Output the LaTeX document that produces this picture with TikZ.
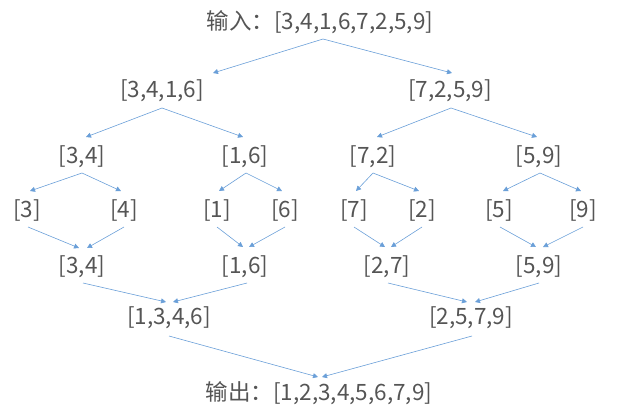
\documentclass[tikz,border=0pt]{standalone}
\usepackage{fontspec}
\setmainfont{Noto Sans CJK SC}
\usetikzlibrary{arrows.meta}
\definecolor{txt}{HTML}{555555}
\definecolor{arrc}{HTML}{6A9FD8}
\begin{document}
\begin{tikzpicture}[x=1pt,y=-1pt,
  lbl/.style={inner sep=0pt, text=txt, font=\fontsize{22.5}{27}\selectfont, anchor=center},
  conn/.style={draw=arrc, line width=0.6pt, -{Triangle[length=5pt,width=5pt,fill=arrc]}}]
\useasboundingbox (0,0) rectangle (639,408);
% nodes
\node[lbl] (in) at (320,22) {输入：[3,4,1,6,7,2,5,9]};
\node[lbl] (a) at (162,91) {[3,4,1,6]};
\node[lbl] (b) at (450,91) {[7,2,5,9]};
\node[lbl] (c1) at (82,157) {[3,4]};
\node[lbl] (c2) at (245,157) {[1,6]};
\node[lbl] (c3) at (373,157) {[7,2]};
\node[lbl] (c4) at (539,157) {[5,9]};
\node[lbl] (d1) at (27,210) {[3]};
\node[lbl] (d2) at (124,210) {[4]};
\node[lbl] (d3) at (217,210) {[1]};
\node[lbl] (d4) at (285,210) {[6]};
\node[lbl] (d5) at (354,210) {[7]};
\node[lbl] (d6) at (422,210) {[2]};
\node[lbl] (d7) at (499,210) {[5]};
\node[lbl] (d8) at (583,210) {[9]};
\node[lbl] (e1) at (82,267) {[3,4]};
\node[lbl] (e2) at (245,267) {[1,6]};
\node[lbl] (e3) at (387,267) {[2,7]};
\node[lbl] (e4) at (539,267) {[5,9]};
\node[lbl] (f1) at (169,318) {[1,3,4,6]};
\node[lbl] (f2) at (471,318) {[2,5,7,9]};
\node[lbl] (out) at (319,393) {输出：[1,2,3,4,5,6,7,9]};
% split
\draw[conn] ([shift={(3,17)}]in.center) -- ([shift={(51,-18)}]a.center);
\draw[conn] ([shift={(3,17)}]in.center) -- ([shift={(2,-18)}]b.center);
\draw[conn] ([shift={(0,17)}]a.center) -- ([shift={(4,-20)}]c1.center);
\draw[conn] ([shift={(0,17)}]a.center) -- ([shift={(-2,-20)}]c2.center);
\draw[conn] ([shift={(1,17)}]b.center) -- ([shift={(4,-20)}]c3.center);
\draw[conn] ([shift={(1,17)}]b.center) -- ([shift={(-2,-20)}]c4.center);
\draw[conn] ([shift={(0,16)}]c1.center) -- ([shift={(3,-19)}]d1.center);
\draw[conn] ([shift={(0,16)}]c1.center) -- ([shift={(-3,-19)}]d2.center);
\draw[conn] ([shift={(1,16)}]c2.center) -- ([shift={(2,-19)}]d3.center);
\draw[conn] ([shift={(1,16)}]c2.center) -- ([shift={(-3,-19)}]d4.center);
\draw[conn] ([shift={(0,16)}]c3.center) -- ([shift={(2,-19)}]d5.center);
\draw[conn] ([shift={(0,16)}]c3.center) -- ([shift={(-3,-19)}]d6.center);
\draw[conn] ([shift={(1,16)}]c4.center) -- ([shift={(4,-19)}]d7.center);
\draw[conn] ([shift={(1,16)}]c4.center) -- ([shift={(-2,-19)}]d8.center);
% merge
\draw[conn] ([shift={(1,17)}]d1.center) -- ([shift={(-3,-19)}]e1.center);
\draw[conn] ([shift={(0,17)}]d2.center) -- ([shift={(5,-19)}]e1.center);
\draw[conn] ([shift={(0,17)}]d3.center) -- ([shift={(-2,-20)}]e2.center);
\draw[conn] ([shift={(0,17)}]d4.center) -- ([shift={(4,-20)}]e2.center);
\draw[conn] ([shift={(0,17)}]d5.center) -- ([shift={(-2,-20)}]e3.center);
\draw[conn] ([shift={(0,17)}]d6.center) -- ([shift={(4,-20)}]e3.center);
\draw[conn] ([shift={(1,17)}]d7.center) -- ([shift={(-3,-20)}]e4.center);
\draw[conn] ([shift={(0,17)}]d8.center) -- ([shift={(4,-20)}]e4.center);
\draw[conn] ([shift={(1,16)}]e1.center) -- ([shift={(-3,-16)}]f1.center);
\draw[conn] ([shift={(2,16)}]e2.center) -- ([shift={(4,-16)}]f1.center);
\draw[conn] ([shift={(1,16)}]e3.center) -- ([shift={(-4,-16)}]f2.center);
\draw[conn] ([shift={(0,16)}]e4.center) -- ([shift={(4,-16)}]f2.center);
\draw[conn] ([shift={(0,18)}]f1.center) -- ([shift={(-1,-16)}]out.center);
\draw[conn] ([shift={(1,18)}]f2.center) -- ([shift={(3,-16)}]out.center);
\end{tikzpicture}
\end{document}
